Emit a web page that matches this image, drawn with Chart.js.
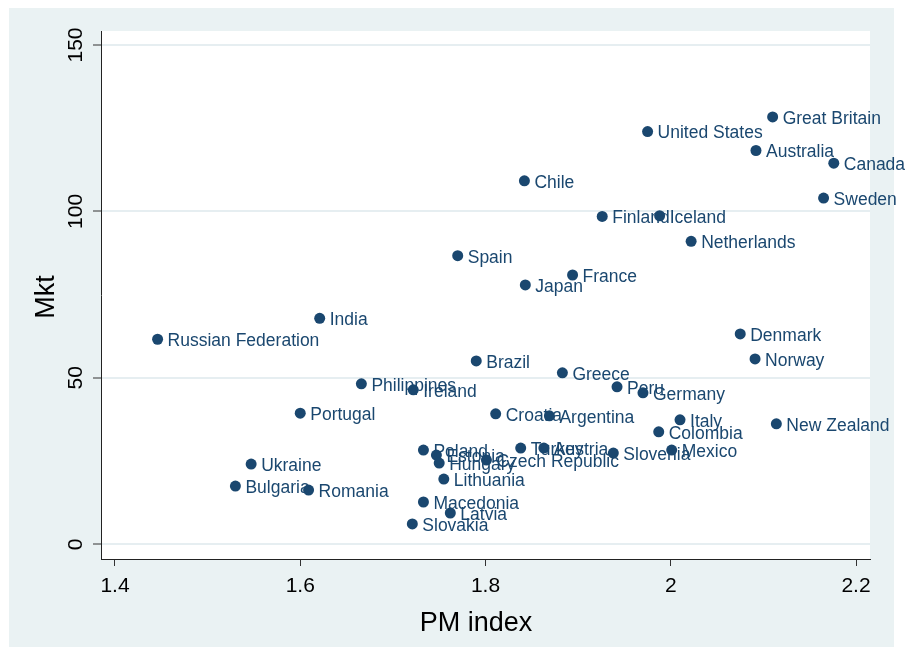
<!DOCTYPE html>
<html>
<head>
<meta charset="utf-8">
<script src="https://cdn.jsdelivr.net/npm/chart.js@4.4.1/dist/chart.umd.min.js"></script>
<style>
  html, body { margin: 0; padding: 0; background: #fff; }
  canvas { display: block; }
</style>
</head>
<body>
<canvas id="myChart" width="907" height="647"></canvas>
<script>
const countries = ['Great Britain', 'United States', 'Australia', 'Canada', 'Sweden', 'Chile',
  'Finland', 'Iceland', 'Netherlands', 'Spain', 'France', 'Japan', 'India', 'Russian Federation',
  'Denmark', 'Norway', 'Brazil', 'Greece', 'Philippines', 'Ireland', 'Peru', 'Germany',
  'Portugal', 'Croatia', 'Argentina', 'Italy', 'New Zealand', 'Colombia', 'Poland', 'Estonia',
  'Hungary', 'Czech Republic', 'Turkey', 'Austria', 'Slovenia', 'Mexico', 'Ukraine', 'Lithuania',
  'Bulgaria', 'Romania', 'Macedonia', 'Latvia', 'Slovakia'];
const pmIndex = [2.110, 1.975, 2.092, 2.176, 2.165, 1.842,
  1.926, 1.988, 2.022, 1.770, 1.894, 1.843, 1.621, 1.446,
  2.075, 2.091, 1.790, 1.883, 1.666, 1.722, 1.942, 1.970,
  1.600, 1.811, 1.869, 2.010, 2.114, 1.987, 1.733, 1.747,
  1.750, 1.801, 1.838, 1.863, 1.938, 2.001, 1.547, 1.755,
  1.530, 1.609, 1.733, 1.762, 1.721];
const mkt = [128.4, 124.0, 118.3, 114.5, 104.0, 109.2,
  98.5, 98.7, 91.0, 86.7, 80.9, 77.9, 67.9, 61.6,
  63.2, 55.7, 55.1, 51.5, 48.2, 46.4, 47.3, 45.5,
  39.4, 39.2, 38.6, 37.4, 36.2, 33.8, 28.3, 26.8,
  24.4, 25.3, 28.9, 28.9, 27.4, 28.3, 24.1, 19.6,
  17.5, 16.3, 12.7, 9.4, 6.1];
const xTicks = [1.4, 1.6, 1.8, 2, 2.2];
const yTicks = [0, 50, 100, 150];

const navy = '#1a476f';
const bgColor = '#eaf2f3';
const fontFamily = 'Arial, "Liberation Sans", Helvetica, sans-serif';

const points = pmIndex.map((x, i) => ({ x: x, y: mkt[i] }));

const stataLook = {
  id: 'stataLook',
  beforeDraw(chart) {
    const c = chart.ctx;
    const a = chart.chartArea;
    c.save();
    c.fillStyle = bgColor;
    c.fillRect(9, 8, 885, 639);
    c.fillStyle = '#fff';
    c.fillRect(a.left, a.top, a.right - a.left, a.bottom - a.top);
    c.restore();
  },
  afterDatasetsDraw(chart) {
    const c = chart.ctx;
    const meta = chart.getDatasetMeta(0);
    c.save();
    c.font = '17.5px ' + fontFamily;
    c.fillStyle = navy;
    c.textBaseline = 'middle';
    c.textAlign = 'left';
    meta.data.forEach((el, i) => {
      c.fillText(countries[i], el.x + 10, el.y + 2);
    });
    c.restore();
  },
  afterDraw(chart) {
    const c = chart.ctx;
    const ys = chart.scales.y;
    c.save();
    c.fillStyle = '#000';
    c.font = '21px ' + fontFamily;
    c.textAlign = 'center';
    c.textBaseline = 'middle';
    yTicks.forEach(v => {
      c.save();
      c.translate(76, ys.getPixelForValue(v));
      c.rotate(-Math.PI / 2);
      c.fillText(String(v), 0, 0);
      c.restore();
    });
    // axis titles
    c.font = '27px ' + fontFamily;
    c.fillText('PM index', 476, 624);
    c.save();
    c.translate(47, 297);
    c.rotate(-Math.PI / 2);
    c.fillText('Mkt', 0, 0);
    c.restore();
    c.restore();
  }
};

const ctx = document.getElementById('myChart').getContext('2d');
const myChart = new Chart(ctx, {
  type: 'scatter',
  data: {
    datasets: [
      {
        label: 'Mkt',
        data: points,
        backgroundColor: navy,
        borderWidth: 0,
        pointRadius: 5.5,
        pointHoverRadius: 5.5,
      },
    ],
  },
  options: {
    responsive: false,
    animation: false,
    events: [],
    layout: {
      padding: { left: 0, top: 31, right: 37, bottom: 0 },
    },
    plugins: {
      legend: { display: false },
      tooltip: { enabled: false },
    },
    scales: {
      x: {
        type: 'linear',
        min: 1.3849,
        max: 2.2151,
        afterBuildTicks: s => { s.ticks = xTicks.map(v => ({ value: v })); },
        afterFit: s => { s.height = 88; },
        border: { color: '#222', width: 1 },
        grid: {
          drawOnChartArea: false,
          drawTicks: true,
          tickLength: 7,
          tickColor: '#333',
          tickWidth: 1,
        },
        ticks: {
          color: '#000',
          padding: 8,
          maxRotation: 0,
          font: { family: fontFamily, size: 21 },
          callback: v => String(v),
        },
      },
      y: {
        type: 'linear',
        min: -4.42,
        max: 154.2,
        afterBuildTicks: s => { s.ticks = yTicks.map(v => ({ value: v })); },
        afterFit: s => { s.width = 101; },
        border: { color: '#222', width: 1 },
        grid: {
          color: '#e6eef1',
          lineWidth: 2,
          drawTicks: true,
          tickLength: 8,
          tickColor: '#333',
          tickWidth: 1,
        },
        ticks: { display: false },
      },
    },
  },
  plugins: [stataLook],
});
</script>
</body>
</html>
